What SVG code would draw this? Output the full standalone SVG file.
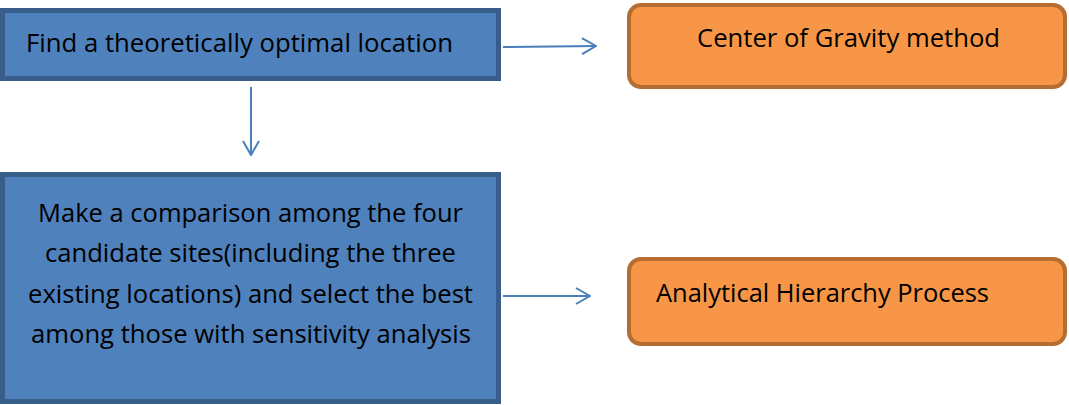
<svg xmlns="http://www.w3.org/2000/svg" width="1069" height="405" viewBox="0 0 1069 405">
<style>
.blue{fill:#4F81BD;stroke:#385D8A;stroke-width:5}
.orange{fill:#F79646;stroke:#B66D31;stroke-width:4}
.t{font-family:"Open Sans","Noto Sans",sans-serif;font-size:25px;fill:#000}
.c{stroke:#4A7EBB;stroke-width:2;fill:none}
</style>
<defs>
<marker id="arr" viewBox="0 0 16 18" refX="15" refY="9" markerWidth="16" markerHeight="18" markerUnits="userSpaceOnUse" orient="auto">
<path d="M1,1 L15,9 L1,17" fill="none" stroke="#4A7EBB" stroke-width="2"/>
</marker>
</defs>
<g id="node-find">
<rect class="blue" x="2.5" y="10.5" width="496" height="68"/>
<text class="t" x="26" y="52" textLength="427" lengthAdjust="spacingAndGlyphs">Find a theoretically optimal location</text>
</g>
<g id="node-cog">
<rect class="orange" x="629" y="5" width="436" height="82" rx="12"/>
<text class="t" x="697" y="47" textLength="303" lengthAdjust="spacingAndGlyphs">Center of Gravity method</text>
</g>
<g id="node-compare">
<rect class="blue" x="2.5" y="174.5" width="496" height="227"/>
<text class="t" x="38" y="222" textLength="425" lengthAdjust="spacingAndGlyphs">Make a comparison among the four</text>
<text class="t" x="45" y="262" textLength="411" lengthAdjust="spacingAndGlyphs">candidate sites(including the three</text>
<text class="t" x="28" y="303" textLength="445" lengthAdjust="spacingAndGlyphs">existing locations) and select the best</text>
<text class="t" x="31" y="343" textLength="440" lengthAdjust="spacingAndGlyphs">among those with sensitivity analysis</text>
</g>
<g id="node-ahp">
<rect class="orange" x="629" y="259" width="436" height="85" rx="12"/>
<text class="t" x="656" y="302" textLength="333" lengthAdjust="spacingAndGlyphs">Analytical Hierarchy Process</text>
</g>
<g id="connectors">
<line class="c" x1="503" y1="47" x2="596" y2="46" marker-end="url(#arr)"/>
<line class="c" x1="251" y1="87" x2="251" y2="155" marker-end="url(#arr)"/>
<line class="c" x1="503" y1="296" x2="590" y2="296" marker-end="url(#arr)"/>
</g>
</svg>
